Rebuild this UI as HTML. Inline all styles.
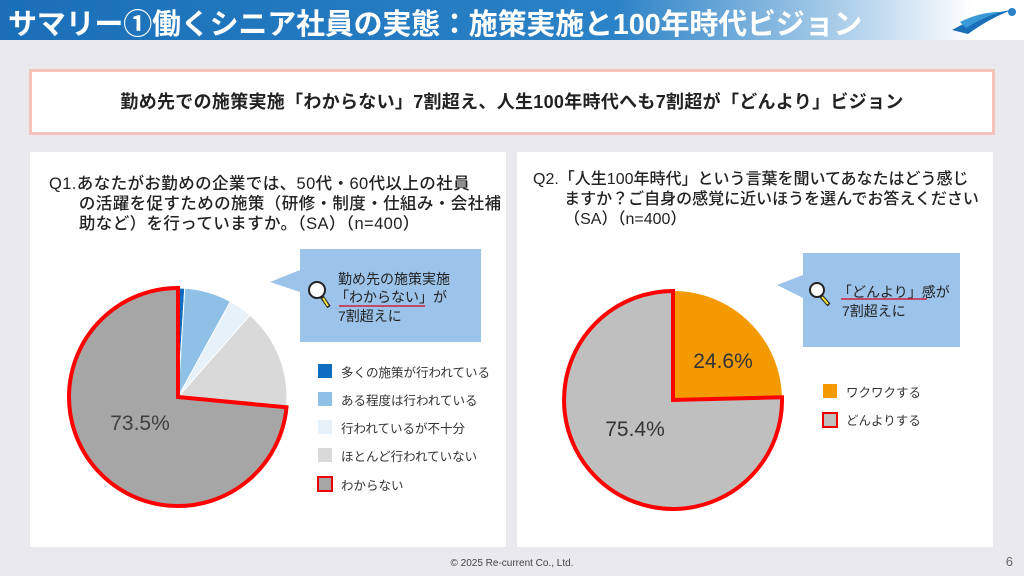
<!DOCTYPE html>
<html><head><meta charset="utf-8"><style>
body{margin:0;width:1024px;height:576px;overflow:hidden;background:#e9e9ee;font-family:"Liberation Sans","Noto Sans CJK JP",sans-serif;position:relative}
.hdr{position:absolute;left:0;top:0;width:1024px;height:40px;background:linear-gradient(90deg,#1a6fb8 0%,#2b82c6 60%,#bcd8ee 85%,#fff 95%)}
.hdr span{position:absolute;left:8px;top:1px;color:#fff;font-size:29px;font-weight:bold;letter-spacing:-0.2px;white-space:nowrap}
.sum{position:absolute;left:29px;top:69px;width:960px;height:60px;background:#fff;border:3px solid #f6c3bc;text-align:center;line-height:60px;font-size:18px;font-weight:bold;color:#222;letter-spacing:0.3px}
.panel{position:absolute;top:152px;width:476px;height:395px;background:#fff}
.q{position:absolute;font-size:16px;font-weight:500;color:#222;line-height:20px;white-space:nowrap}
.foot{position:absolute;top:558px;left:0;width:1024px;text-align:center;font-size:10px;color:#444}
</style></head><body>
<div class="hdr"><span>サマリー①働くシニア社員の実態：施策実施と100年時代ビジョン</span></div>
<svg style="position:absolute;left:950px;top:6px" width="70" height="30"><path d="M2 24 Q30 8 62 4 Q40 12 18 28Z" fill="#1a6fb8"/><path d="M10 16 Q30 6 50 6 Q32 12 16 22Z" fill="#3a9ad8"/><circle cx="62" cy="6" r="4" fill="#2b82c6"/></svg>
<div class="sum">勤め先での施策実施「わからない」7割超え、人生100年時代へも7割超が「どんより」ビジョン</div>
<div class="panel" style="left:30px"></div>
<div class="panel" style="left:517px"></div>
<div class="q" style="left:49px;top:174px;font-size:16.5px;letter-spacing:0.4px">Q1.あなたがお勤めの企業では、50代・60代以上の社員<br>&nbsp;&nbsp;&nbsp;&nbsp;&nbsp;&nbsp;の活躍を促すための施策（研修・制度・仕組み・会社補<br>&nbsp;&nbsp;&nbsp;&nbsp;&nbsp;&nbsp;助など）を行っていますか。（SA）（n=400）</div>
<div class="q" style="left:533px;top:170px">Q2.「人生100年時代」という言葉を聞いてあなたはどう感じ<br>&nbsp;&nbsp;&nbsp;&nbsp;&nbsp;&nbsp;&nbsp;ますか？ご自身の感覚に近いほうを選んでお答えください<br>&nbsp;&nbsp;&nbsp;&nbsp;&nbsp;&nbsp;&nbsp;（SA）（n=400）</div>
<svg style="position:absolute;left:0;top:0" width="1024" height="576" font-family="Liberation Sans,Noto Sans CJK JP,sans-serif">
<path d="M178 397 L178 288 A109 109 0 0 1 184.8 288.2Z" fill="#0f6cbf" stroke="#fff"/>
<path d="M178 397 L184.8 288.2 A109 109 0 0 1 230.5 301.5Z" fill="#8fc1e6" stroke="#fff"/>
<path d="M178 397 L230.5 301.5 A109 109 0 0 1 250.1 315.2Z" fill="#e6f1fa" stroke="#fff"/>
<path d="M178 397 L250.1 315.2 A109 109 0 0 1 286.5 407.3Z" fill="#d9d9d9" stroke="#fff"/>
<path d="M178 397 L286.5 407.3 A109 109 0 1 1 178 288Z" fill="#a6a6a6" stroke="#f00" stroke-width="4" stroke-linejoin="miter"/>
<text x="140" y="430" font-size="21" fill="#404040" text-anchor="middle" font-weight="500">73.5%</text>
<path d="M300 249 H481 V342 H300 V292 L270 282 L300 270Z" fill="#9cc3ea"/>
<circle cx="317" cy="290" r="8" fill="#fff" stroke="#222" stroke-width="2"/><line x1="322" y1="297" x2="329" y2="307" stroke="#222" stroke-width="4"/><line x1="323" y1="298" x2="328" y2="306" stroke="#f5e63a" stroke-width="2"/>
<text font-size="14" fill="#222"><tspan x="338" y="284">勤め先の施策実施</tspan><tspan x="335" y="302">「わからない」が</tspan><tspan x="338" y="321">7割超えに</tspan></text>
<line x1="339" y1="306" x2="425" y2="306" stroke="#d0223a" stroke-width="1.5"/>
<g font-size="12.5" fill="#333">
<rect x="318" y="364" width="14" height="14" fill="#0f6cbf"/><text x="341" y="377">多くの施策が行われている</text>
<rect x="318" y="392" width="14" height="14" fill="#8fc1e6"/><text x="341" y="405">ある程度は行われている</text>
<rect x="318" y="420" width="14" height="14" fill="#e6f1fa"/><text x="341" y="433">行われているが不十分</text>
<rect x="318" y="448" width="14" height="14" fill="#d9d9d9"/><text x="341" y="461">ほとんど行われていない</text>
<rect x="318" y="477" width="14" height="14" fill="#a6a6a6" stroke="#e00" stroke-width="2"/><text x="341" y="490">わからない</text>
</g>
<path d="M673 400 L673 291 A109 109 0 0 1 782 397.3Z" fill="#f39a00"/>
<path d="M673 400 L673 291 L673 400 L782 397.3 A109 109 0 1 1 673 291Z" fill="#bfbfbf" stroke="#f00" stroke-width="4"/>
<text x="723" y="368" font-size="21" fill="#333" text-anchor="middle" font-weight="500">24.6%</text>
<text x="635" y="436" font-size="21" fill="#333" text-anchor="middle" font-weight="500">75.4%</text>
<path d="M803 253 H960 V347 H803 V298 L777 285 L803 275Z" fill="#9cc3ea"/>
<circle cx="817" cy="290" r="7" fill="#fff" stroke="#222" stroke-width="2"/><line x1="821" y1="296" x2="829" y2="305" stroke="#222" stroke-width="4"/><line x1="822" y1="297" x2="828" y2="304" stroke="#f5e63a" stroke-width="2"/>
<text font-size="14" fill="#222"><tspan x="838" y="297">「どんより」感が</tspan><tspan x="842" y="316">7割超えに</tspan></text>
<line x1="841" y1="299" x2="927" y2="299" stroke="#d0223a" stroke-width="1.5"/>
<g font-size="12.5" fill="#333">
<rect x="823" y="384" width="14" height="14" fill="#f39a00"/><text x="846" y="397">ワクワクする</text>
<rect x="823" y="413" width="14" height="14" fill="#bfbfbf" stroke="#e00" stroke-width="2"/><text x="846" y="425">どんよりする</text>
</g>
<text x="1013" y="566" font-size="13" fill="#666" text-anchor="end">6</text>
</svg>
<div class="foot">© 2025 Re-current Co., Ltd.</div>
</body></html>
